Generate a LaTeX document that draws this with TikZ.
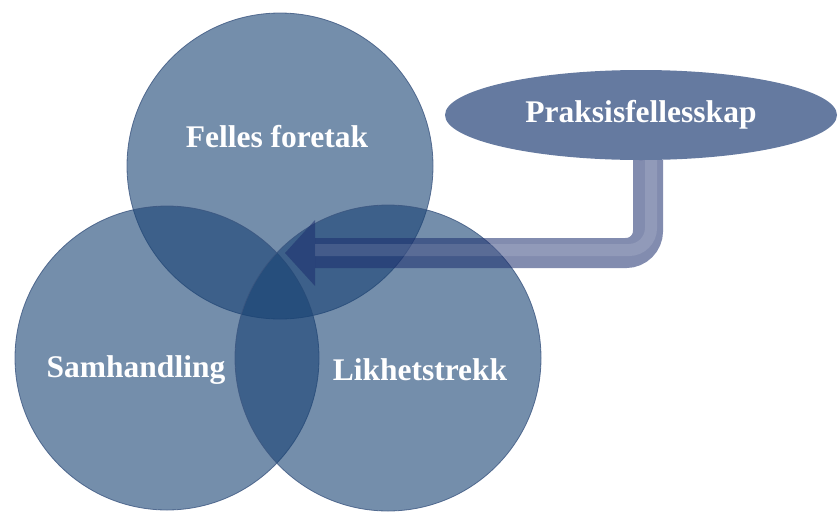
\documentclass[tikz,border=0pt]{standalone}
\usepackage{fontspec}
\setmainfont{Liberation Serif}
\usetikzlibrary{arrows.meta,shapes.geometric}
\definecolor{vennc}{HTML}{184273}
\definecolor{vennline}{HTML}{3B5680}
\definecolor{praxc}{HTML}{657AA0}
\definecolor{pipec}{HTML}{1C2E6E}

\begin{document}
\begin{tikzpicture}[x=1pt,y=-1pt,font=\bfseries\fontsize{31.5}{36}\selectfont,
  venn/.style={circle, inner sep=0pt, fill=vennc, fill opacity=0.6,
    draw=vennline, draw opacity=0.8, line width=0.8pt},
  lbl/.style={text=white, text opacity=1},
  pipe/.style={line width=30pt, draw=pipec, opacity=0.55, rounded corners=22pt,
    -{Triangle[length=30pt,width=66pt,line width=0pt]}},
  shine/.style={line width=12pt, draw=white, opacity=0.12, rounded corners=22pt,
    shorten >=30pt}]
  \useasboundingbox (0,0) rectangle (838,512);
  % three overlapping circles
  \node[venn, minimum size=306pt] (foretak) at (280,166) {};
  \node[venn, minimum size=304pt] (samh) at (167,358) {};
  \node[venn, minimum size=306pt] (likhet) at (388,358) {};

  \node[lbl] (foretakl) at (277,137) {Felles foretak};
  \node[lbl] (samhl) at (136,370) {Samhandling};
  \node[lbl] (likhetl) at (420,370) {Likhetstrekk};

  % community of practice, pointing into the middle
  \node[ellipse, inner sep=0pt, fill=praxc, text=white, minimum width=392pt,
    minimum height=90pt] (praks) at (641,115) {Praksisfellesskap};
  \coordinate (bend) at (648,253);
  \coordinate (core) at (285,253);
  \draw[pipe] (praks.south -| bend) -- (bend) -- (core);
  \draw[shine] ([xshift=3pt]praks.south -| bend) -- ([xshift=3pt,yshift=3pt]bend) -- ([yshift=3pt]core);
\end{tikzpicture}
\end{document}
